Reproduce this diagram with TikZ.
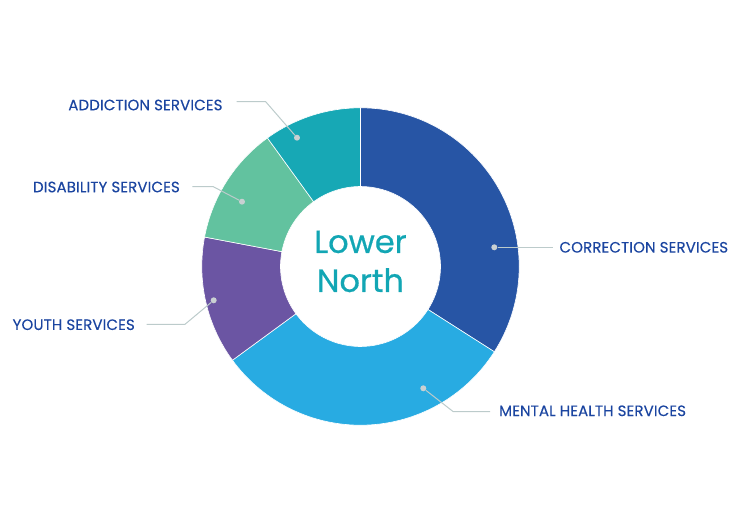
\documentclass[tikz,border=0pt]{standalone}
\usepackage{fontspec}
\setmainfont{Poppins}
\newfontfamily\lblfont{Poppins}[LetterSpace=0.8, FakeBold=0.3]
\newfontfamily\ctrfont{Poppins}[FakeBold=0.6]
\usepackage{xcolor}
\usepackage{tikz}
\usetikzlibrary{calc}
\usetikzlibrary{positioning}
\definecolor{corrblue}{HTML}{2755A5}
\definecolor{mentalblue}{HTML}{28ABE2}
\definecolor{youthpurple}{HTML}{6B55A3}
\definecolor{disabgreen}{HTML}{62C29F}
\definecolor{addteal}{HTML}{17A8B5}
\definecolor{labelblue}{HTML}{1B45A0}
\definecolor{centerteal}{HTML}{12A6B4}
\definecolor{leadgray}{HTML}{BCCBCB}
\definecolor{dotgray}{HTML}{C9D0D2}
\tikzstyle{lbl} = [draw=none, inner sep=0, text=labelblue, font=\lblfont\fontsize{15}{17}\selectfont]
\tikzstyle{dot} = [circle, fill=dotgray, inner sep=0, minimum size=6pt]
\tikzstyle{lead} = [-, draw=leadgray, line width=1pt]

\begin{document}
\begin{tikzpicture}[x=1pt, y=1pt]
\useasboundingbox (-360.5,-264.5) rectangle (391.5,266.5);
% ring
\foreach \a/\b/\c in {90/-32.5/corrblue, -32.5/-143.8/mentalblue, 216.2/169.3/youthpurple, 169.3/125.9/disabgreen, 125.9/90/addteal}
  \filldraw [fill=\c, draw=white, line width=0.6pt] (\a:158.7) arc[start angle=\a, end angle=\b, radius=158.7] -- (\b:80) arc[start angle=\b, end angle=\a, radius=80] -- cycle;
\node [draw=none, inner sep=0, align=center, text=centerteal, font=\ctrfont\fontsize{32}{39}\selectfont] (LN) at (0,5.1) {Lower\\North};
% labels
\node [dot] (dC) at (133.8,19.2) {};
\node [dot] (dM) at (62.8,-121.8) {};
\node [dot] (dY) at (-146.8,-33.8) {};
\node [dot] (dD) at (-118.5,64.8) {};
\node [dot] (dA) at (-63.5,128.8) {};
\node [lbl, anchor=west] (C) at (198.8,19.2) {CORRECTION SERVICES};
\node [lbl, anchor=west] (M) at (138.5,-144.3) {MENTAL HEALTH SERVICES};
\node [lbl, anchor=east] (Y) at (-225.5,-58.2) {YOUTH SERVICES};
\node [lbl, anchor=east] (D) at (-180.5,79.5) {DISABILITY SERVICES};
\node [lbl, anchor=east] (A) at (-137.8,161.5) {ADDICTION SERVICES};
\coordinate (eM) at (92.8,-145.2);
\coordinate (eY) at (-175.5,-57.8);
\coordinate (eD) at (-147.2,79.8);
\coordinate (eA) at (-94.8,164.8);
\draw [lead] (dC) -- ([xshift=-6.6pt]C.west);
\draw [lead] (dM) -- (eM) -- ([xshift=-9pt]M.west |- eM);
\draw [lead] (dY) -- (eY) -- ([xshift=11.7pt]Y.east |- eY);
\draw [lead] (dD) -- (eD) -- ([xshift=12.3pt]D.east |- eD);
\draw [lead] (dA) -- (eA) -- ([xshift=14pt]A.east |- eA);
\end{tikzpicture}
\end{document}
